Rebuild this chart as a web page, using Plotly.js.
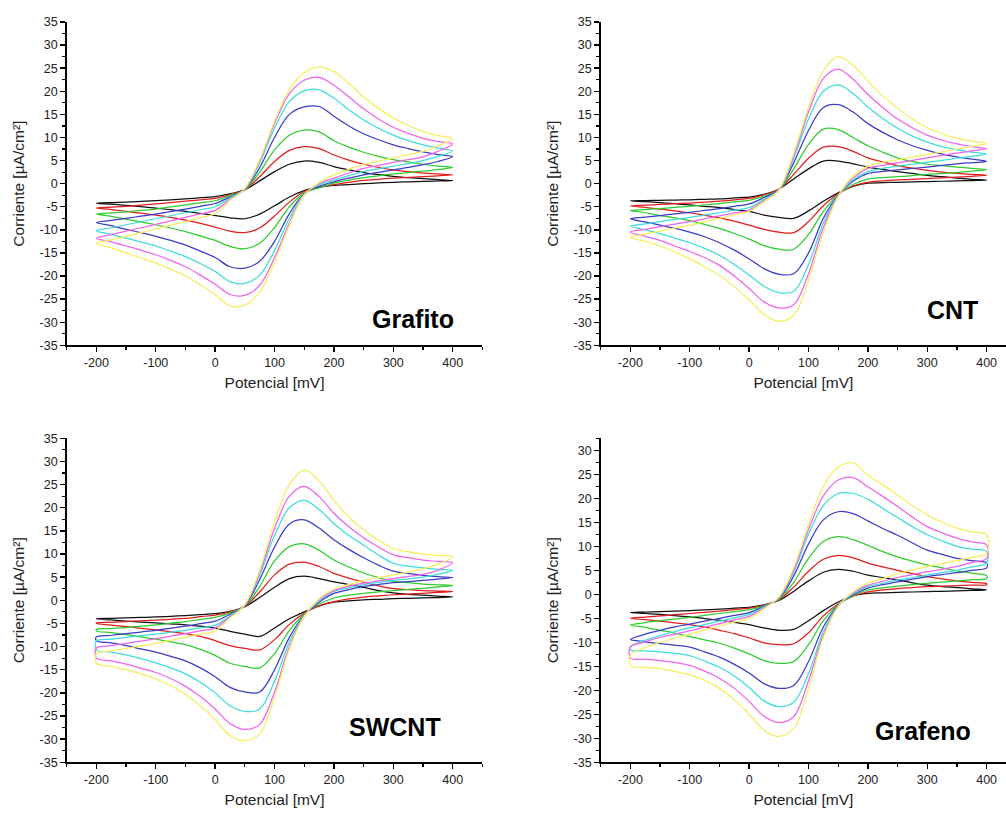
<!DOCTYPE html>
<html><head><meta charset="utf-8">
<script src="https://cdn.plot.ly/plotly-3.0.1.min.js"></script>
<style>html,body{margin:0;padding:0;background:#fff;} #chart{width:1006px;height:813px;}</style>
</head><body><div id="chart"></div>
<script>
// Potential grid (mV): anodic (forward) scan and cathodic (reverse) scan
const E_FWD = [-200,-175,-150,-125,-100,-75,-50,-25,0,25,50,75,100,125,150,175,200,225,250,275,300,325,350,375,400];
const E_REV = [400,375,350,325,300,275,250,225,200,175,150,125,100,75,50,25,0,-25,-50,-75,-100,-125,-150,-175,-200];

// Curve colours (scan rates, lowest to highest)
const COLORS = ['#111111','#e31c1c','#2fcc2f','#3b3bc8','#3edcdc','#f062ee','#f5ef5c'];

// Current density [µA/cm²]; rows: black, red, green, blue, cyan, magenta, yellow
const GRAFITO_FWD = [
  [-4.25,-4.1,-4.0,-3.85,-3.7,-3.5,-3.3,-3.05,-2.8,-2.2,-1.3,0.6,2.6,4.2,4.9,4.6,3.7,3.0,2.4,1.95,1.6,1.3,1.1,0.85,0.65],
  [-5.3,-5.1,-4.9,-4.65,-4.4,-4.1,-3.8,-3.5,-3.2,-2.4,-1.3,1.5,4.8,7.2,8.0,7.6,6.2,5.1,4.2,3.5,3.0,2.6,2.3,2.1,1.9],
  [-6.6,-6.35,-6.1,-5.8,-5.5,-5.05,-4.6,-4.15,-3.7,-2.6,-1.3,2.5,7.3,10.5,11.6,11.2,9.3,7.9,6.8,5.9,5.2,4.7,4.2,3.8,3.5],
  [-8.4,-7.95,-7.5,-7.05,-6.6,-6.05,-5.5,-4.9,-4.3,-2.9,-1.2,3.5,10.0,15.0,16.6,16.7,14.6,12.5,10.8,9.5,8.4,7.6,6.9,6.3,5.85],
  [-10.2,-9.55,-8.9,-8.25,-7.6,-6.95,-6.3,-5.65,-5.0,-3.1,-1.2,4.5,12.0,17.8,20.1,20.3,18.5,16.0,13.8,12.0,10.5,9.3,8.4,7.7,7.1],
  [-11.8,-11.05,-10.3,-9.55,-8.8,-8.05,-7.3,-6.55,-5.8,-3.4,-1.1,5.0,13.0,19.5,22.4,23.0,21.3,18.8,16.2,14.0,12.2,10.9,9.8,9.1,8.6],
  [-12.9,-12.15,-11.4,-10.6,-9.8,-9.0,-8.2,-7.35,-6.5,-3.6,-1.0,5.2,13.5,20.3,24.0,25.3,24.3,21.7,18.8,16.3,14.2,12.6,11.3,10.4,9.8]
];
const GRAFITO_REV = [
  [0.65,0.58,0.5,0.4,0.3,0.15,0.0,-0.2,-0.4,-0.8,-1.5,-2.9,-4.8,-6.6,-7.6,-7.4,-6.9,-6.45,-6.0,-5.65,-5.3,-5.0,-4.7,-4.45,-4.25],
  [1.9,1.7,1.5,1.35,1.2,0.95,0.7,0.3,-0.2,-0.7,-1.7,-4.0,-7.0,-9.6,-10.6,-10.3,-9.4,-8.6,-7.9,-7.3,-6.8,-6.4,-6.0,-5.6,-5.3],
  [3.5,3.05,2.7,2.4,2.1,1.7,1.3,0.75,0.1,-0.9,-2.0,-5.0,-9.5,-12.9,-14.1,-13.6,-12.3,-11.3,-10.4,-9.6,-8.9,-8.3,-7.7,-7.1,-6.6],
  [5.85,4.8,4.1,3.5,3.0,2.45,1.9,1.2,0.4,-0.6,-2.2,-6.5,-12.5,-16.8,-18.3,-18.0,-16.0,-14.6,-13.3,-12.3,-11.4,-10.6,-9.9,-9.1,-8.4],
  [7.1,5.9,5.0,4.35,3.8,3.2,2.6,1.75,0.8,-0.3,-2.3,-7.5,-14.5,-19.8,-21.6,-21.2,-19.0,-17.3,-15.8,-14.6,-13.5,-12.6,-11.8,-11.0,-10.2],
  [8.6,7.0,5.8,5.2,4.6,3.95,3.3,2.3,1.2,0.0,-2.4,-8.5,-16.0,-22.0,-24.2,-24.0,-21.8,-19.8,-18.0,-16.6,-15.4,-14.4,-13.5,-12.6,-11.8],
  [9.8,8.2,7.0,6.3,5.6,4.9,4.2,3.1,1.9,0.2,-2.4,-9.0,-17.0,-23.5,-26.3,-26.5,-24.0,-21.9,-20.0,-18.5,-17.2,-16.1,-15.0,-13.9,-12.9]
];
const CNT_FWD = [
  [-3.7,-3.65,-3.6,-3.55,-3.5,-3.4,-3.3,-3.1,-2.9,-2.3,-1.2,1.0,3.2,4.9,4.9,4.3,3.6,3.1,2.6,2.2,1.8,1.5,1.2,0.95,0.75],
  [-4.8,-4.65,-4.5,-4.35,-4.2,-4.0,-3.8,-3.5,-3.2,-2.4,-1.2,2.0,5.5,7.9,8.0,7.0,5.6,4.7,3.9,3.35,2.9,2.5,2.2,2.0,1.8],
  [-5.8,-5.6,-5.4,-5.15,-4.9,-4.6,-4.3,-3.95,-3.6,-2.7,-1.3,3.2,8.5,11.8,11.7,10.0,8.2,6.8,5.6,4.8,4.2,3.9,3.6,3.3,3.0],
  [-7.6,-7.25,-6.9,-6.55,-6.2,-5.8,-5.4,-4.9,-4.4,-3.0,-1.3,4.5,11.5,16.5,17.1,15.5,13.0,11.1,9.5,8.2,7.2,6.4,5.8,5.3,4.8],
  [-9.2,-8.7,-8.2,-7.75,-7.3,-6.8,-6.3,-5.75,-5.2,-3.4,-1.4,5.5,14.0,20.0,21.4,19.5,16.6,14.1,12.0,10.3,9.0,8.0,7.3,6.8,6.4],
  [-10.5,-9.9,-9.3,-8.75,-8.2,-7.6,-7.0,-6.35,-5.7,-3.7,-1.4,6.0,15.5,22.8,24.8,22.6,19.3,16.5,14.0,12.1,10.5,9.4,8.6,8.0,7.6],
  [-11.6,-10.95,-10.3,-9.65,-9.0,-8.25,-7.5,-6.75,-6.0,-3.9,-1.4,6.5,16.5,24.5,27.5,25.6,22.2,19.0,16.3,14.0,12.1,10.8,9.8,9.2,8.7]
];
const CNT_REV = [
  [0.75,0.68,0.6,0.52,0.45,0.38,0.3,0.2,0.1,-0.6,-2.0,-3.8,-5.9,-7.5,-7.3,-6.8,-6.0,-5.6,-5.2,-4.9,-4.6,-4.35,-4.1,-3.9,-3.7],
  [1.8,1.6,1.4,1.25,1.1,0.95,0.8,0.6,0.3,-0.5,-2.2,-4.8,-8.2,-10.6,-10.5,-9.9,-9.0,-8.1,-7.4,-6.85,-6.3,-5.9,-5.5,-5.15,-4.8],
  [3.0,2.7,2.4,2.2,2.0,1.75,1.5,1.3,1.0,-0.2,-2.4,-6.0,-11.0,-14.2,-14.2,-13.4,-12.0,-10.8,-9.7,-8.8,-8.0,-7.4,-6.9,-6.3,-5.8],
  [4.8,4.55,4.3,3.95,3.6,3.3,3.0,2.65,2.2,0.5,-2.5,-7.5,-15.0,-19.5,-19.6,-18.4,-16.3,-14.4,-12.8,-11.5,-10.5,-9.7,-9.0,-8.3,-7.6],
  [6.4,5.9,5.5,5.05,4.6,4.2,3.8,3.3,2.6,0.8,-2.6,-8.5,-17.5,-23.3,-23.6,-22.2,-19.8,-17.5,-15.5,-14.0,-12.8,-11.8,-10.8,-10.0,-9.2],
  [7.6,7.1,6.6,6.1,5.6,5.05,4.5,3.95,3.3,1.2,-2.7,-9.5,-19.5,-26.2,-26.9,-25.6,-22.7,-20.0,-17.7,-16.0,-14.7,-13.5,-12.3,-11.4,-10.5],
  [8.7,8.1,7.5,6.9,6.3,5.75,5.2,4.6,3.8,1.6,-2.7,-10.5,-21.0,-28.5,-29.8,-28.3,-25.2,-22.3,-19.9,-18.0,-16.3,-14.8,-13.5,-12.5,-11.6]
];
const SWCNT_FWD = [
  [-4.0,-3.9,-3.8,-3.7,-3.6,-3.45,-3.3,-3.1,-2.9,-2.4,-1.4,0.6,2.8,4.7,5.2,4.7,4.0,3.4,2.8,2.1,1.6,1.3,1.1,0.9,0.7],
  [-4.9,-4.75,-4.6,-4.45,-4.3,-4.1,-3.9,-3.55,-3.2,-2.5,-1.3,1.8,5.5,7.8,8.2,7.3,5.8,4.8,3.9,3.1,2.5,2.3,2.1,2.0,1.9],
  [-6.3,-6.1,-5.9,-5.6,-5.3,-4.95,-4.6,-4.15,-3.7,-2.7,-1.2,3.0,8.5,11.6,12.2,10.8,8.7,7.2,5.9,4.9,4.1,3.8,3.5,3.35,3.2],
  [-7.9,-7.55,-7.2,-6.85,-6.5,-6.05,-5.6,-5.05,-4.5,-3.0,-1.1,4.5,11.5,16.5,17.4,15.6,13.1,11.0,9.2,7.6,6.3,5.8,5.4,5.1,4.9],
  [-8.8,-8.4,-8.0,-7.65,-7.3,-6.9,-6.5,-5.95,-5.4,-3.4,-1.0,5.5,14.0,20.0,21.6,19.6,16.6,14.0,11.9,9.8,8.0,7.4,7.0,6.7,6.5],
  [-10.3,-9.8,-9.3,-8.8,-8.3,-7.75,-7.2,-6.6,-6.0,-3.6,-1.0,6.0,15.5,22.5,24.6,22.4,18.8,15.9,13.5,11.5,9.8,9.2,8.7,8.4,8.1],
  [-11.5,-10.95,-10.4,-9.85,-9.3,-8.65,-8.0,-7.3,-6.6,-3.8,-1.0,6.5,17.0,25.0,28.1,25.8,21.6,18.0,15.2,13.0,11.2,10.5,10.0,9.7,9.4]
];
const SWCNT_REV = [
  [0.7,0.6,0.5,0.42,0.35,0.22,0.1,-0.1,-0.4,-1.2,-2.5,-4.0,-6.0,-7.8,-7.3,-6.7,-6.0,-5.6,-5.3,-5.1,-4.9,-4.7,-4.5,-4.25,-4.0],
  [1.9,1.7,1.5,1.35,1.2,0.95,0.7,0.3,-0.3,-1.2,-2.8,-5.2,-8.5,-10.7,-10.4,-9.8,-8.7,-7.8,-7.2,-6.8,-6.4,-6.05,-5.7,-5.35,-5.0],
  [3.2,2.9,2.6,2.35,2.1,1.8,1.5,1.1,0.5,-0.8,-3.0,-6.5,-11.5,-14.6,-14.3,-13.6,-11.9,-10.6,-9.6,-9.0,-8.4,-7.9,-7.4,-7.0,-6.6],
  [4.9,4.6,4.3,4.05,3.8,3.4,3.0,2.3,1.5,-0.4,-3.2,-8.0,-15.0,-19.8,-19.8,-18.8,-16.5,-14.6,-13.1,-12.1,-11.2,-10.5,-9.8,-9.2,-8.7],
  [6.5,5.6,5.0,4.65,4.3,3.85,3.4,2.7,1.9,-0.1,-3.3,-9.0,-17.5,-23.5,-24.0,-22.8,-20.0,-17.7,-15.9,-14.6,-13.5,-12.6,-11.8,-11.2,-10.7],
  [8.1,6.5,5.6,5.15,4.7,4.2,3.7,3.0,2.1,0.1,-3.4,-10.0,-19.8,-26.8,-27.9,-26.6,-23.5,-20.8,-18.6,-16.9,-15.6,-14.7,-13.8,-13.1,-12.5],
  [9.4,7.8,6.8,6.1,5.5,4.9,4.3,3.4,2.4,0.3,-3.4,-10.5,-21.0,-28.8,-30.3,-29.2,-25.8,-22.8,-20.3,-18.4,-17.0,-15.9,-15.0,-14.3,-13.6]
];
const GRAFENO_FWD = [
  [-3.8,-3.7,-3.6,-3.5,-3.4,-3.25,-3.1,-2.9,-2.7,-2.2,-1.3,0.6,2.8,4.6,5.2,4.8,4.0,3.5,3.0,2.4,1.9,1.6,1.4,1.15,0.9],
  [-5.0,-4.75,-4.5,-4.25,-4.0,-3.75,-3.5,-3.2,-2.9,-2.3,-1.2,1.5,4.8,7.3,8.1,7.6,6.5,5.7,5.0,4.3,3.7,3.2,2.8,2.5,2.2],
  [-6.4,-5.9,-5.5,-5.15,-4.8,-4.4,-4.0,-3.6,-3.2,-2.4,-1.1,2.5,7.5,11.0,12.0,11.4,10.2,8.9,7.8,6.9,6.1,5.5,4.9,4.4,3.9],
  [-9.4,-8.3,-7.5,-6.8,-6.2,-5.6,-5.0,-4.4,-3.8,-2.5,-0.9,3.8,10.5,15.5,17.2,16.8,15.3,13.7,12.3,10.7,9.2,8.3,7.5,7.0,6.5],
  [-10.9,-9.6,-8.6,-7.75,-7.0,-6.3,-5.6,-4.9,-4.2,-2.6,-0.8,4.6,12.5,18.5,21.0,21.0,19.8,17.9,16.0,14.1,12.4,11.1,10.0,9.4,8.9],
  [-11.0,-9.9,-9.0,-8.3,-7.6,-6.85,-6.1,-5.35,-4.6,-2.8,-0.7,5.0,13.5,20.5,23.8,24.3,22.4,20.4,18.3,16.1,14.1,12.8,11.7,10.9,10.3],
  [-12.6,-11.1,-10.0,-9.1,-8.3,-7.45,-6.6,-5.8,-5.0,-3.0,-0.6,5.5,14.5,22.5,26.5,27.4,24.8,22.8,20.7,18.5,16.5,15.0,13.8,13.0,12.4]
];
const GRAFENO_REV = [
  [0.9,0.8,0.7,0.62,0.55,0.48,0.4,0.3,0.2,-0.3,-1.6,-3.4,-5.5,-7.3,-7.5,-7.0,-6.3,-5.85,-5.4,-5.05,-4.7,-4.45,-4.2,-4.0,-3.8],
  [2.0,1.9,1.8,1.7,1.6,1.4,1.2,0.9,0.5,-0.4,-2.0,-4.5,-8.0,-10.3,-10.5,-10.1,-9.1,-8.2,-7.5,-6.85,-6.3,-5.95,-5.6,-5.3,-5.0],
  [3.3,3.05,2.8,2.55,2.3,2.0,1.7,1.35,0.9,-0.3,-2.2,-5.5,-10.5,-14.0,-14.4,-13.8,-12.4,-11.2,-10.2,-9.5,-8.8,-8.1,-7.5,-6.9,-6.4],
  [5.5,5.0,4.5,4.1,3.7,3.15,2.6,2.0,1.3,-0.1,-2.3,-6.8,-14.0,-19.0,-19.6,-18.6,-16.4,-14.6,-13.1,-12.0,-11.0,-10.6,-10.3,-9.9,-9.4],
  [6.5,5.7,5.0,4.5,4.0,3.5,3.0,2.3,1.6,0.1,-2.4,-7.8,-16.5,-22.5,-23.4,-22.2,-19.4,-17.0,-15.2,-13.9,-12.8,-12.3,-12.0,-11.8,-11.6],
  [7.5,6.6,5.8,5.2,4.7,4.1,3.5,2.7,1.9,0.3,-2.5,-8.5,-18.0,-25.5,-26.7,-25.4,-22.3,-19.6,-17.5,-16.0,-14.8,-14.2,-13.8,-13.5,-13.3],
  [8.5,7.7,7.0,6.4,5.8,5.05,4.3,3.3,2.3,0.5,-2.5,-9.0,-19.5,-28.0,-29.6,-28.3,-25.0,-22.0,-19.6,-17.9,-16.8,-16.1,-15.5,-15.2,-14.9]
];

const PANEL_NAMES = ['Grafito','CNT','SWCNT','Grafeno'];
const X_TICKS = [-200,-100,0,100,200,300,400];
const X_TICK_TEXT = ['-200','-100','0','100','200','300','400'];
const Y_TICKS = [-35,-30,-25,-20,-15,-10,-5,0,5,10,15,20,25,30,35];
const Y_TICK_TEXT = ['-35','-30','-25','-20','-15','-10','-5','0','5','10','15','20','25','30','35'];

const FONT = 'Liberation Sans, Arial, Helvetica, sans-serif';

const panels = [
  {fwd: GRAFITO_FWD, rev: GRAFITO_REV, xa: 'x',  ya: 'y'},
  {fwd: CNT_FWD,     rev: CNT_REV,     xa: 'x2', ya: 'y2'},
  {fwd: SWCNT_FWD,   rev: SWCNT_REV,   xa: 'x3', ya: 'y3'},
  {fwd: GRAFENO_FWD, rev: GRAFENO_REV, xa: 'x4', ya: 'y4'}
];

const traces = [];
panels.forEach(p => {
  COLORS.forEach((c, i) => {
    const xs = [], ys = [];
    const push = (x, y) => {
      const n = xs.length;
      if (n && xs[n-1] === x && ys[n-1] === y) return;
      xs.push(x); ys.push(y);
    };
    E_FWD.forEach((e, k) => push(e, p.fwd[i][k]));
    E_REV.forEach((e, k) => push(e, p.rev[i][k]));
    push(E_FWD[0], p.fwd[i][0]);
    traces.push({
      type: 'scatter', mode: 'lines', x: xs, y: ys,
      xaxis: p.xa, yaxis: p.ya, hoverinfo: 'skip', showlegend: false,
      line: {color: c, width: 1.25, shape: 'spline', smoothing: 1}
    });
  });
});

function xAxis(domain, range, anchor) {
  return {
    domain: domain, range: range, anchor: anchor,
    tickmode: 'array', tickvals: X_TICKS, ticktext: X_TICK_TEXT,
    ticks: 'outside', ticklen: 5, tickwidth: 1.4, tickcolor: '#000',
    minor: {tickmode: 'linear', tick0: 0, dtick: 50, ticks: 'outside', ticklen: 3, tickwidth: 1.2, tickcolor: '#000', showgrid: false},
    showline: true, linecolor: '#000', linewidth: 1.6, mirror: false,
    showgrid: false, zeroline: false, automargin: false,
    tickfont: {family: FONT, size: 12.5, color: '#222'},
    title: {text: 'Potencial [mV]', font: {family: FONT, size: 15.5, color: '#222'}, standoff: 8}
  };
}
function yAxis(domain, range, anchor) {
  return {
    domain: domain, range: range, anchor: anchor,
    tickmode: 'array', tickvals: Y_TICKS, ticktext: Y_TICK_TEXT,
    ticks: 'outside', ticklen: 5, tickwidth: 1.4, tickcolor: '#000',
    minor: {tickmode: 'linear', tick0: 0, dtick: 2.5, ticks: 'outside', ticklen: 3, tickwidth: 1.2, tickcolor: '#000', showgrid: false},
    showline: true, linecolor: '#000', linewidth: 1.6, mirror: false,
    showgrid: false, zeroline: false, automargin: false,
    tickfont: {family: FONT, size: 12.5, color: '#222'},
    title: {text: 'Corriente [µA/cm²]', font: {family: FONT, size: 15.5, color: '#222'}, standoff: 11}
  };
}

const W = 1006, H = 813;
const xdL = [66.7 / W, 482.4 / W];
const xdR = [600.7 / W, 1.0];
const ydT = [1 - 345.3 / H, 1 - 22 / H];
const ydB = [1 - 762.3 / H, 1 - 438.3 / H];

const labelPos = [
  {x: 456 / W, y: 1 - 319 / H},
  {x: 980 / W, y: 1 - 310 / H},
  {x: 443 / W, y: 1 - 727 / H},
  {x: 973 / W, y: 1 - 731 / H}
];

const layout = {
  width: W, height: H,
  margin: {l: 0, r: 0, t: 0, b: 0},
  paper_bgcolor: '#fff', plot_bgcolor: '#fff',
  showlegend: false,
  font: {family: FONT, color: '#222'},
  xaxis:  xAxis(xdL, [-250, 450], 'y'),
  yaxis:  yAxis(ydT, [-35, 35], 'x'),
  xaxis2: xAxis(xdR, [-250, 432.6], 'y2'),
  yaxis2: yAxis(ydT, [-35, 35], 'x2'),
  xaxis3: xAxis(xdL, [-250, 450], 'y3'),
  yaxis3: yAxis(ydB, [-35, 35], 'x3'),
  xaxis4: xAxis(xdR, [-250, 432.6], 'y4'),
  yaxis4: yAxis(ydB, [-35, 32.5], 'x4'),
  annotations: PANEL_NAMES.map((t, i) => ({
    text: '<b>' + t + '</b>', xref: 'paper', yref: 'paper',
    x: labelPos[i].x, y: labelPos[i].y, xanchor: 'right', yanchor: 'middle',
    showarrow: false, font: {family: FONT, size: 25, color: '#000'}
  }))
};

Plotly.newPlot('chart', traces, layout, {displayModeBar: false, staticPlot: true});
</script></body></html>
